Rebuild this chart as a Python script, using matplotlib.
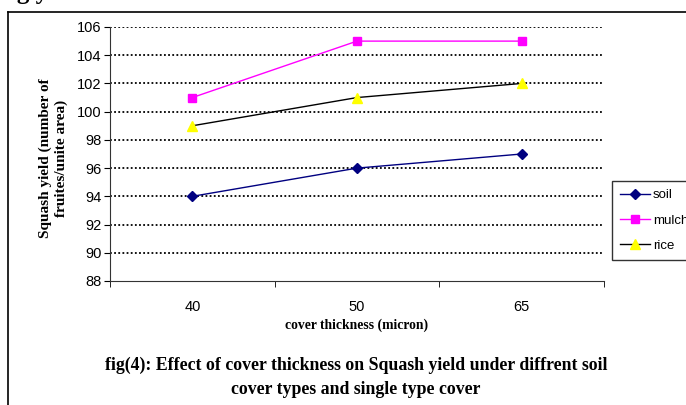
import numpy as np
import matplotlib
matplotlib.use("Agg")
import matplotlib.pyplot as plt

# Veriler
thickness = ["40", "50", "65"]
soil = [94, 96, 97]
mulch = [101, 105, 105]
rice = [99, 101, 102]
y_ticks = [88, 90, 92, 94, 96, 98, 100, 102, 104, 106]

W, H = 686, 405
fig = plt.figure(figsize=(W / 100, H / 100), dpi=100)
fig.patch.set_facecolor("white")

serif = "Liberation Serif"
sans = "Liberation Sans"

# sayfa kenari (ust ve sol cizgi)
fig.add_artist(plt.Line2D([8 / W, 1.0], [1 - 12 / H, 1 - 12 / H],
                          transform=fig.transFigure, color="black", lw=1.2))
fig.add_artist(plt.Line2D([8 / W, 8 / W], [1 - 12 / H, 0.0],
                          transform=fig.transFigure, color="black", lw=1.2))

# ustteki kesik basliktan kalan harfler
fig.text(3 / W, 1 + 1 / H, "ng yield", family=serif, fontweight="bold",
         fontsize=18, va="baseline", ha="left")

ax = fig.add_axes([110 / W, 1 - 281 / H, (604 - 110) / W, (281 - 27) / H])
x = np.arange(len(thickness))

ax.plot(x, soil, color="#000080", lw=1, marker="D", ms=5,
        markerfacecolor="#000080", markeredgecolor="#000080", label="soil")
ax.plot(x, mulch, color="#FF00FF", lw=1, marker="s", ms=6,
        markerfacecolor="#FF00FF", markeredgecolor="#FF00FF", label="mulch")
ax.plot(x, rice, color="black", lw=1, marker="^", ms=7,
        markerfacecolor="#FFFF00", markeredgecolor="#FFFF00", label="rice")

ax.set_xlim(-0.5, len(thickness) - 0.5)
ax.set_ylim(88, 106)
ax.set_yticks(y_ticks)
ax.set_yticklabels([str(v) for v in y_ticks], family=sans, fontsize=10.5)
ax.set_xticks(x)
ax.set_xticklabels(thickness, family=sans, fontsize=10.5)
ax.tick_params(axis="x", which="major", length=0, pad=14)
ax.set_xticks(np.arange(-0.5, len(thickness)), minor=True)
ax.tick_params(axis="x", which="minor", length=4, direction="out")
ax.tick_params(axis="y", length=4, direction="out", pad=2)

for v in y_ticks[1:]:
    ax.axhline(v, color="black", lw=1.3, linestyle=(0, (1, 1.3)), zorder=0)

for s in ["top", "right"]:
    ax.spines[s].set_visible(False)
ax.spines["left"].set_color("#333333")
ax.spines["bottom"].set_color("#333333")

ax.set_xlabel("cover thickness (micron)", family=serif, fontweight="bold",
              fontsize=9.8, labelpad=3)

# y ekseni basligi
fig.text(53 / W, 1 - 158 / H, "Squash yield (number of\nfruites/unite area)",
         family=serif, fontweight="bold", fontsize=11, rotation=90,
         ha="center", va="center", multialignment="center")

leg = fig.legend(loc="upper left", bbox_to_anchor=(612 / W, 1 - 181 / H),
                 prop={"family": sans, "size": 9.5}, frameon=True,
                 fancybox=False, borderpad=0.6, labelspacing=1.0,
                 handlelength=2.3, handletextpad=0.2, borderaxespad=0)
leg.get_frame().set_edgecolor("black")
leg.get_frame().set_linewidth(1)

fig.text(356 / W, 1 - 365 / H,
         "fig(4): Effect of cover thickness on Squash yield under diffrent soil",
         family=serif, fontweight="bold", fontsize=12.8, ha="center", va="center")
fig.text(356 / W, 1 - 390 / H, "cover types and single type cover",
         family=serif, fontweight="bold", fontsize=12.8, ha="center", va="center")

fig.savefig("out.png", dpi=100)
